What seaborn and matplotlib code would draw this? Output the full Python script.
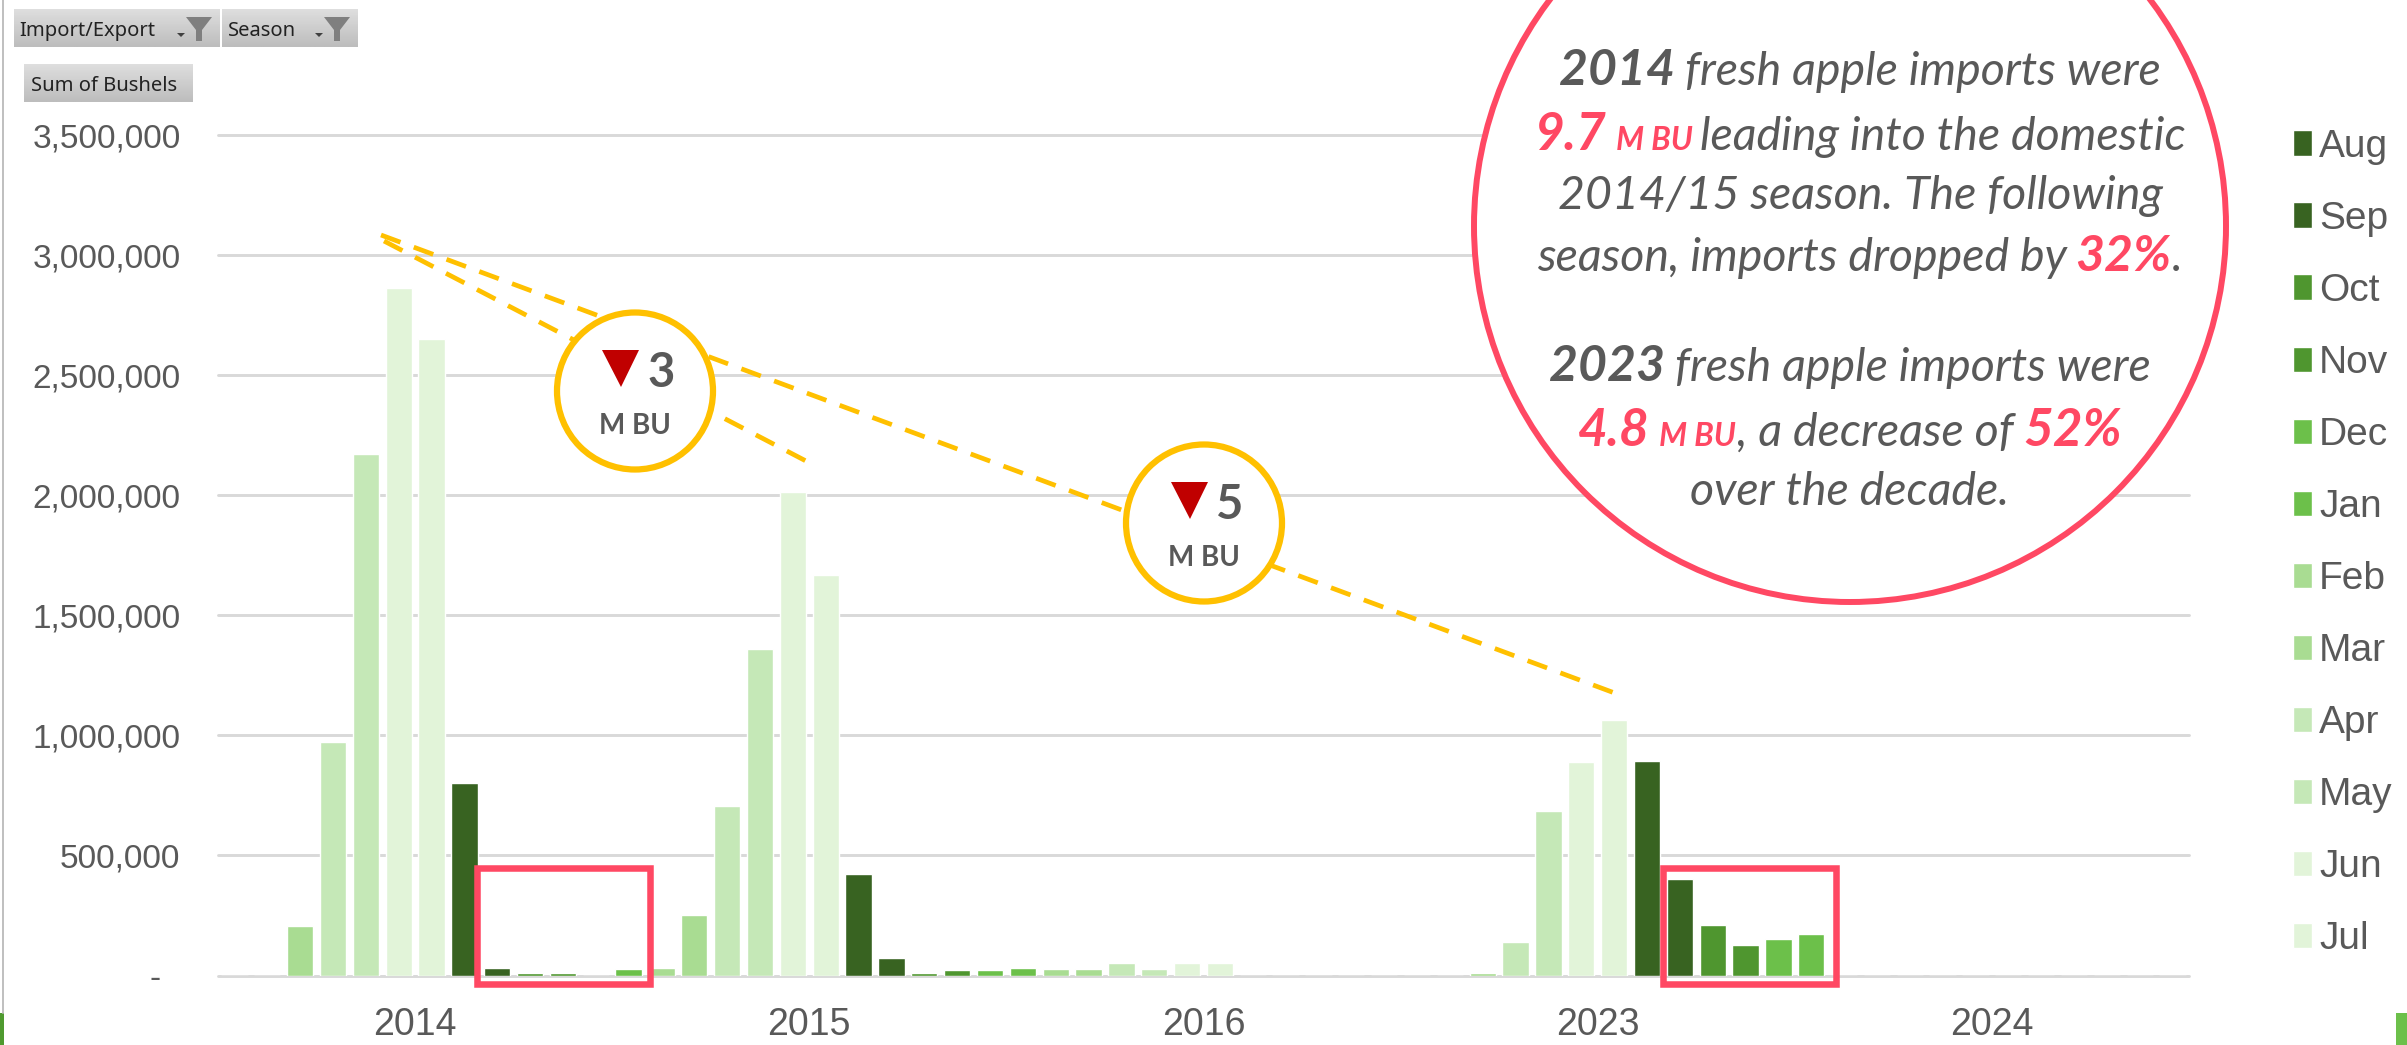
import numpy as np
import pandas as pd
import seaborn as sns
import matplotlib.pyplot as plt
from matplotlib.patches import Ellipse, Rectangle, Polygon
from matplotlib.ticker import FuncFormatter

###Data, Jan to Dec inside each year
years = ['2014', '2015', '2016', '2023', '2024']
months = ['Jan', 'Feb', 'Mar', 'Apr', 'May', 'Jun', 'Jul', 'Aug', 'Sep', 'Oct', 'Nov', 'Dec']
legend_months = ['Aug', 'Sep', 'Oct', 'Nov', 'Dec', 'Jan', 'Feb', 'Mar', 'Apr', 'May', 'Jun', 'Jul']
bushels_2014 = [0, 0, 207000, 973000, 2170000, 2862000, 2650000, 800000, 33000, 11000, 11000, 0]
bushels_2015 = [26000, 33000, 251000, 704000, 1360000, 2014000, 1667000, 421000, 72000, 11000, 22000, 22000]
bushels_2016 = [33000, 28000, 28000, 54000, 28000, 50000, 53000, 0, 0, 0, 0, 0]
bushels_2023 = [0, 0, 10000, 139000, 686000, 887000, 1062000, 894000, 403000, 211000, 128000, 150000]
bushels_2024 = [174000, 0, 0, 0, 0, 0, 0, 0, 0, 0, 0, 0]
y_ticks = [0, 500000, 1000000, 1500000, 2000000, 2500000, 3000000, 3500000]

month_colors = {'Aug': '#386321', 'Sep': '#386321', 'Oct': '#4F962F', 'Nov': '#4F962F',
                'Dec': '#6CC04A', 'Jan': '#6CC04A', 'Feb': '#A9DC92', 'Mar': '#A9DC92',
                'Apr': '#C5E8B7', 'May': '#C5E8B7', 'Jun': '#E2F4D9', 'Jul': '#E2F4D9'}

GREY = '#595959'
RED = '#FF4863'
GOLD = '#FFC000'
W, H = 2407, 1045

rows = []
for year, vals in zip(years, [bushels_2014, bushels_2015, bushels_2016, bushels_2023, bushels_2024]):
    for month, val in zip(months, vals):
        rows.append({'Year': year, 'Month': month, 'Bushels': val})
df = pd.DataFrame(rows)

sns.set_theme(style='white')
fig = plt.figure(figsize=(W / 100, H / 100), dpi=100, facecolor='white')
ax = fig.add_axes([218 / W, 1 - 975.5 / H, (2189 - 218) / W, (975.5 - 135) / H])

sns.barplot(data=df, x='Year', y='Bushels', hue='Month', hue_order=months, order=years,
            palette=month_colors, width=1.0, gap=0.2, saturation=1, errorbar=None, ax=ax, zorder=3)

ax.set_xlim(-0.5, 4.5)
ax.set_ylim(0, 3500000)
ax.set_yticks(y_ticks)
ax.yaxis.set_major_formatter(FuncFormatter(lambda v, p: '-' if v == 0 else '{:,.0f}'.format(v)))
ax.set_xlabel('')
ax.set_ylabel('')
ax.grid(axis='y', color='#D9D9D9', lw=2.1, clip_on=False, zorder=1)
ax.set_axisbelow(True)
sns.despine(ax=ax, left=True, bottom=True)
ax.tick_params(axis='both', length=0)
ax.tick_params(axis='y', pad=27)
ax.tick_params(axis='x', pad=23)
for t in ax.get_yticklabels():
    t.set_fontfamily('Liberation Sans')
    t.set_fontsize(24)
    t.set_color(GREY)
for t in ax.get_xticklabels():
    t.set_fontfamily('Liberation Sans')
    t.set_fontsize(27)
    t.set_color(GREY)
# the zero label sits further left than the rest
ax.get_yticklabels()[0].set_x(-0.0102)

# legend runs Aug to Jul, not calendar order
handles, labels = ax.get_legend_handles_labels()
lookup = dict(zip(labels, handles))
leg = ax.legend([lookup[m] for m in legend_months], legend_months, loc='upper left',
                bbox_to_anchor=(2293 / W, 1 - 129 / H), bbox_transform=fig.transFigure,
                frameon=False, prop={'family': 'Liberation Sans', 'size': 28},
                handlelength=0.49, handleheight=0.64, handletextpad=0.18, labelspacing=0.926,
                borderpad=0, borderaxespad=0, labelcolor=GREY)

###Overlay in pixel coordinates for the annotations
ov = fig.add_axes([0, 0, 1, 1], zorder=5)
ov.patch.set_alpha(0)
ov.axis('off')

# pivot chart buttons
grad = np.linspace(0.87, 0.74, 30).reshape(-1, 1)
for x0, x1, y0, y1 in [(14, 220, 9, 47), (222, 358, 9, 47), (24, 193, 64, 102)]:
    ov.imshow(grad, cmap='gray', vmin=0, vmax=1, extent=(x0, x1, y1, y0), aspect='auto', zorder=1)
for x, y, s in [(19, 36, 'Import/Export'), (228, 36, 'Season'), (31, 91, 'Sum of Bushels')]:
    ov.text(x, y, s, family='Noto Sans', fontsize=14.5, color='#222222', va='baseline', zorder=2)
for fx, ax_x in [(186, 177), (324, 315)]:
    ov.add_patch(Polygon([(fx, 17), (fx + 26, 17), (fx + 16, 30), (fx + 16, 41), (fx + 10, 41), (fx + 10, 30)],
                         color='#7F7F7F', lw=0, zorder=2))
    ov.add_patch(Polygon([(ax_x, 33), (ax_x + 8, 33), (ax_x + 4, 37)], color='#404040', lw=0, zorder=2))

# window edge bits
ov.plot([3, 3], [0, 1013], color='#BFBFBF', lw=1.4)
ov.add_patch(Rectangle((0, 1013), 4, 32, color='#4F9A2F', lw=0))
ov.add_patch(Rectangle((2396, 1013), 11, 32, color='#6CC04A', lw=0))

# dashed trend lines go under the circles
for xs, ys in [([381, 1620], [235, 695]), ([384, 806], [241, 461])]:
    ov.plot(xs, ys, color=GOLD, lw=3.4, dashes=(4.4, 3.0), zorder=3)

# red highlight boxes
for x0, x1 in [(477, 650), (1663, 1836)]:
    ov.add_patch(Rectangle((x0, 868), x1 - x0, 116, fill=False, ec=RED, lw=4.7, zorder=4))

# gold badges
for cx, cy, num in [(635, 391, '3'), (1204, 523, '5')]:
    ov.add_patch(Ellipse((cx, cy), 156, 157, fc='white', ec=GOLD, lw=4.5, zorder=5))
    ov.add_patch(Polygon([(cx - 33, cy - 41), (cx + 4, cy - 41), (cx - 14, cy - 4)], color='#C00000', lw=0, zorder=6))
    ov.text(cx + 26, cy - 4, num, family='Lato', weight='bold', fontsize=34, color=GREY,
            ha='center', va='baseline', zorder=6)
    ov.text(cx, cy + 43, 'M BU', family='Lato', weight='bold', fontsize=20, color=GREY,
            ha='center', va='baseline', zorder=6)

# big callout circle
ov.add_patch(Ellipse((1850, 226), 752, 752, fc='white', ec=RED, lw=4.3, zorder=7))

ov.set_xlim(0, W)
ov.set_ylim(H, 0)
renderer = fig.canvas.get_renderer()


def text_line(cx, y, runs):
    # runs are (text, colour, weight, size, gap after in px)
    parts = []
    total = 0
    for s, col, wt, size, gap in runs:
        t = ov.text(0, y, s, family='Lato', style='italic', weight=wt, fontsize=size, color=col,
                    va='baseline', ha='left', zorder=8)
        w = t.get_window_extent(renderer).width
        parts.append((t, w, gap))
        total += w + gap
    x = cx - (total - runs[-1][4]) / 2
    for t, w, gap in parts:
        t.set_x(x)
        x += w + gap


N = 33.5
B = 36
R = 37
text_line(1860, 85, [('2014', GREY, 'bold', B, 10), ('fresh apple imports were', GREY, 'normal', N, 0)])
text_line(1860, 150, [('9.7', RED, 'bold', R, 10), ('M BU', RED, 'bold', 23, 8),
                      ('leading into the domestic', GREY, 'normal', N, 0)])
text_line(1860, 209, [('2014/15 season. The following', GREY, 'normal', N, 0)])
text_line(1860, 271, [('season, imports dropped by', GREY, 'normal', N, 8), ('32%', RED, 'bold', 36, 1),
                      ('.', GREY, 'normal', N, 0)])
text_line(1850, 381, [('2023', GREY, 'bold', B, 10), ('fresh apple imports were', GREY, 'normal', N, 0)])
text_line(1850, 446, [('4.8', RED, 'bold', R, 10), ('M BU', RED, 'bold', 23, 1),
                      (', a decrease of', GREY, 'normal', N, 10), ('52%', RED, 'bold', R, 0)])
text_line(1850, 505, [('over the decade.', GREY, 'normal', N, 0)])

fig.savefig('out.png', dpi=100, facecolor='white')
